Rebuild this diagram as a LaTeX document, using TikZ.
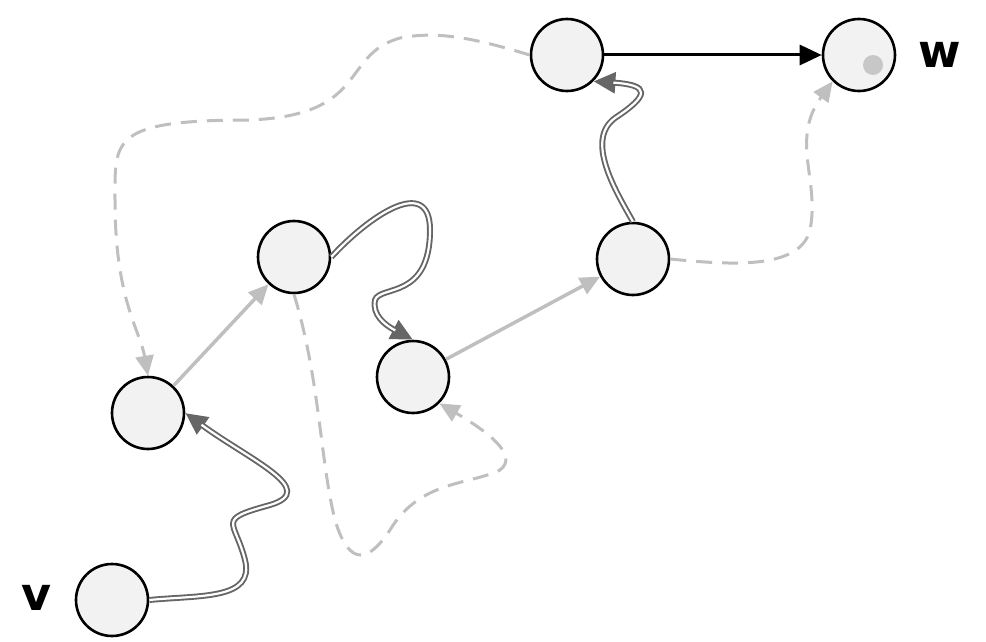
\documentclass[tikz,border=0pt]{standalone}
\usepackage{fontspec}
\setmainfont{DejaVu Sans}
\usetikzlibrary{arrows.meta}
\begin{document}
\begin{tikzpicture}[x=1pt,y=-1pt,
  nd/.style={circle,draw=black,line width=2.6pt,fill=black!5,minimum size=72pt,inner sep=0pt},
  lab/.style={font=\fontsize{46}{46}\selectfont\bfseries},
  light/.style={draw=black!25,line width=3.5pt,-{Triangle[length=20pt,width=18pt]}},
  dsh/.style={draw=black!25,line width=3pt,dash pattern=on 16pt off 10pt,-{Triangle[length=20pt,width=18pt]}},
  wig/.style={draw=black!60,line width=6pt,-{Triangle[length=22pt,width=20pt]},
    postaction={draw=white,line width=2.2pt,-,shorten >=20pt}},
]
\useasboundingbox (0,0) rectangle (986,642);
\node[nd] (v) at (112,600) {};
\node[nd] (a) at (148,413) {};
\node[nd] (b) at (294,257) {};
\node[nd] (c) at (413,377) {};
\node[nd] (d) at (633,259) {};
\node[nd] (e) at (567,55) {};
\node[nd] (w) at (859,55) {};
\node[lab] (lv) at (36,598) {v};
\node[lab] (lw) at (940,55) {w};
\fill[black!22] (873,65) circle (10pt);
% wiggly
\draw[wig] (v.east) .. controls (200,595) and (255,600) .. (245,560)
  .. controls (235,520) and (215,520) .. (270,505)
  .. controls (320,490) and (250,460) .. (a.east);
\draw[wig] (b.east) .. controls (370,215) and (430,175) .. (430,230)
  .. controls (430,300) and (380,285) .. (375,300)
  .. controls (372,315) and (385,325) .. (c.north);
\draw[wig] (d.north) .. controls (615,190) and (585,140) .. (615,118)
  .. controls (650,95) and (650,85) .. (e.south east);
% light solid
\draw[light] (a) -- (b);
\draw[light] (c) -- (d);
\draw[black,line width=3pt,-{Triangle[length=22pt,width=20pt]}] (e) -- (w);
% dashed
\draw[dsh] (e.west) .. controls (480,40) and (440,30) .. (400,38)
  .. controls (340,55) and (370,115) .. (250,120)
  .. controls (110,120) and (115,140) .. (115,200)
  .. controls (115,300) and (140,330) .. (a.north);
\draw[dsh] (b.south) .. controls (320,380) and (320,460) .. (335,520)
  .. controls (350,570) and (370,560) .. (390,530)
  .. controls (420,480) and (470,485) .. (500,470)
  .. controls (520,455) and (485,430) .. (c.south east);
\draw[dsh] (d.east) .. controls (730,265) and (800,270) .. (810,230)
  .. controls (820,180) and (790,140) .. (w.south west);
\end{tikzpicture}
\end{document}
